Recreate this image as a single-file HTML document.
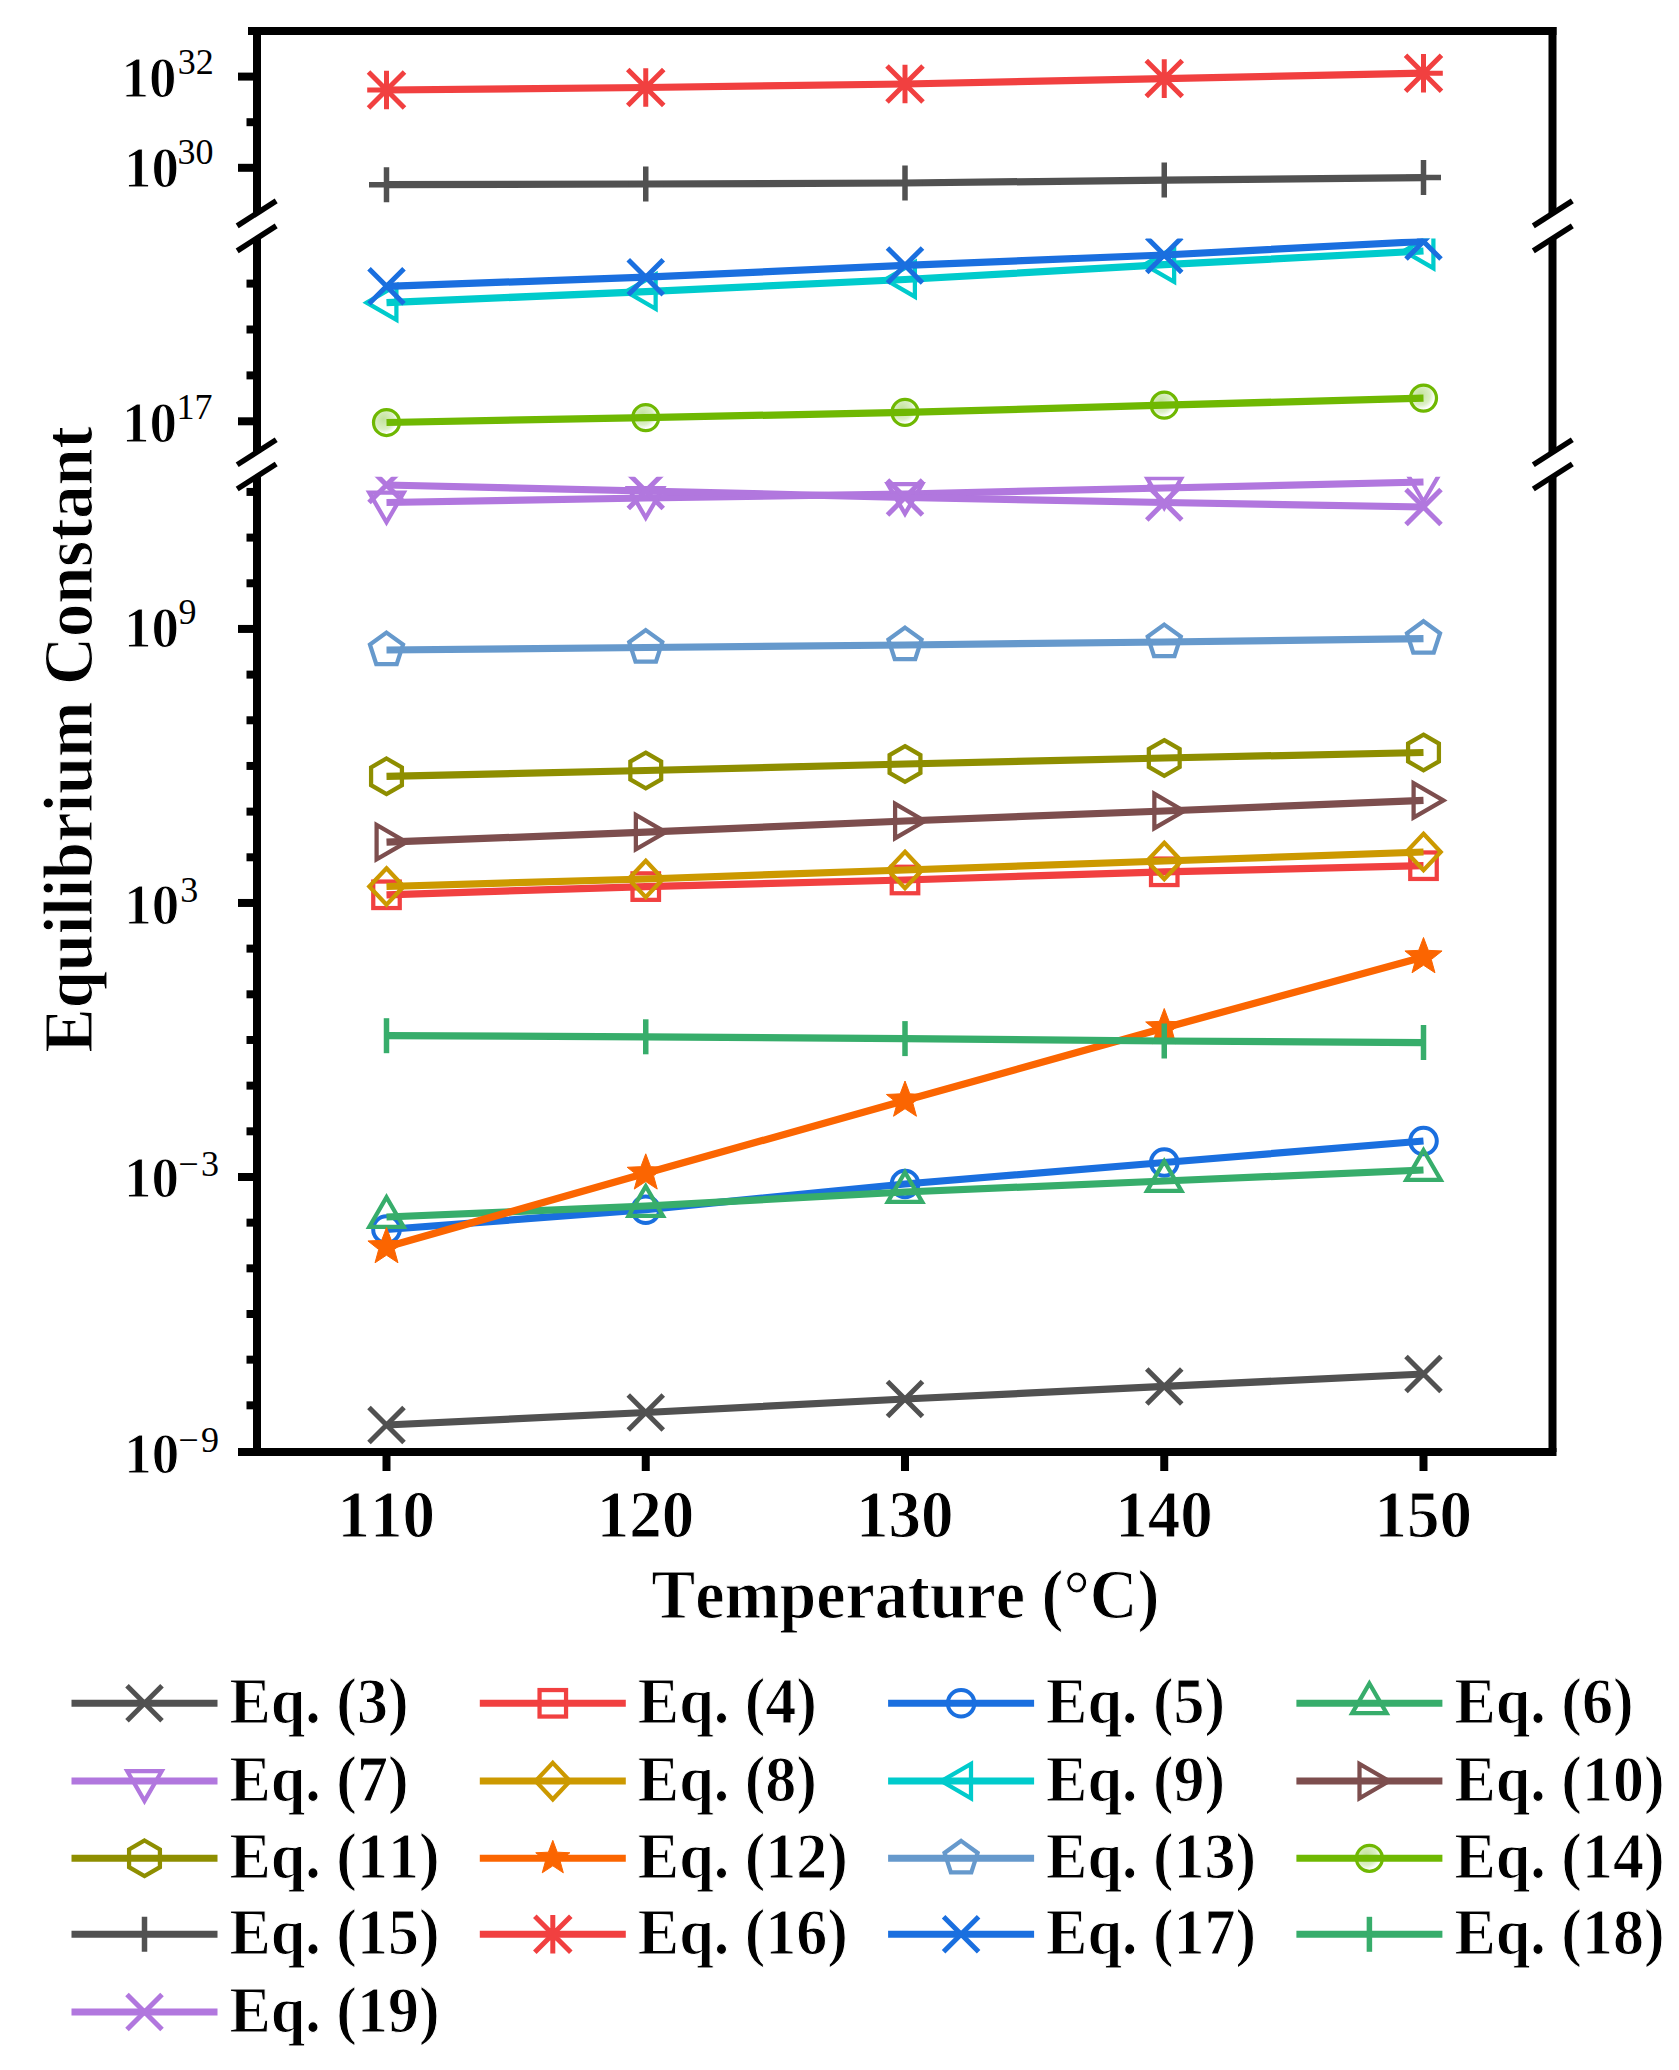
<!DOCTYPE html>
<html><head><meta charset="utf-8"><title>Equilibrium Constant vs Temperature</title>
<style>html,body{margin:0;padding:0;background:#fff;overflow:hidden;width:1679px;height:2070px;}svg{display:block;} text{font-kerning:none;} .b{font-weight:bold;stroke:#fff;stroke-width:1.0px;}</style></head><body>
<svg width="1679" height="2070" viewBox="0 0 1679 2070">
<rect width="1679" height="2070" fill="#fff"/>
<defs>
<clipPath id="clip1"><rect x="257" y="31" width="1295.5" height="182.4"/></clipPath>
<clipPath id="clip2"><rect x="257" y="238.4" width="1295.5" height="214.4"/></clipPath>
<clipPath id="clip3"><rect x="257" y="476.8" width="1295.5" height="975.2"/></clipPath>
<radialGradient id="sph" cx="0.38" cy="0.38" r="0.7"><stop offset="0" stop-color="#c2e29c"/><stop offset="0.55" stop-color="#dcefc6"/><stop offset="0.8" stop-color="#ffffff"/></radialGradient>
</defs>
<g clip-path="url(#clip3)">
<polyline points="386.5,1425 645.75,1412.5 905,1399 1164.25,1386.4 1423.5,1374" stroke="#515151" stroke-width="7.25" fill="none" stroke-linejoin="round"/>
<path d="M369,1407.5 L404,1442.5 M369,1442.5 L404,1407.5" stroke="#515151" stroke-width="5" fill="none"/>
<path d="M628.25,1395 L663.25,1430 M628.25,1430 L663.25,1395" stroke="#515151" stroke-width="5" fill="none"/>
<path d="M887.5,1381.5 L922.5,1416.5 M887.5,1416.5 L922.5,1381.5" stroke="#515151" stroke-width="5" fill="none"/>
<path d="M1146.75,1368.9 L1181.75,1403.9 M1146.75,1403.9 L1181.75,1368.9" stroke="#515151" stroke-width="5" fill="none"/>
<path d="M1406,1356.5 L1441,1391.5 M1406,1391.5 L1441,1356.5" stroke="#515151" stroke-width="5" fill="none"/>
</g>
<g clip-path="url(#clip3)">
<polyline points="386.5,894.8 645.75,886.6 905,880 1164.25,871.8 1423.5,865.7" stroke="#F14040" stroke-width="7.25" fill="none" stroke-linejoin="round"/>
<rect x="373.25" y="881.55" width="26.5" height="26.5" stroke="#F14040" stroke-width="4.25" fill="none"/>
<rect x="632.5" y="873.35" width="26.5" height="26.5" stroke="#F14040" stroke-width="4.25" fill="none"/>
<rect x="891.75" y="866.75" width="26.5" height="26.5" stroke="#F14040" stroke-width="4.25" fill="none"/>
<rect x="1151" y="858.55" width="26.5" height="26.5" stroke="#F14040" stroke-width="4.25" fill="none"/>
<rect x="1410.25" y="852.45" width="26.5" height="26.5" stroke="#F14040" stroke-width="4.25" fill="none"/>
</g>
<g clip-path="url(#clip3)">
<polyline points="386.5,1229.5 645.75,1209.7 905,1184 1164.25,1162.5 1423.5,1141" stroke="#1A6FDF" stroke-width="7.25" fill="none" stroke-linejoin="round"/>
<circle cx="386.5" cy="1229.5" r="13.3" stroke="#1A6FDF" stroke-width="4" fill="none"/>
<circle cx="645.75" cy="1209.7" r="13.3" stroke="#1A6FDF" stroke-width="4" fill="none"/>
<circle cx="905" cy="1184" r="13.3" stroke="#1A6FDF" stroke-width="4" fill="none"/>
<circle cx="1164.25" cy="1162.5" r="13.3" stroke="#1A6FDF" stroke-width="4" fill="none"/>
<circle cx="1423.5" cy="1141" r="13.3" stroke="#1A6FDF" stroke-width="4" fill="none"/>
</g>
<g clip-path="url(#clip3)">
<polyline points="386.5,1217 645.75,1206 905,1192 1164.25,1181 1423.5,1170" stroke="#37AD6B" stroke-width="7.25" fill="none" stroke-linejoin="round"/>
<path d="M386.5,1197.2 L403.7,1226.9 L369.3,1226.9 Z" stroke="#37AD6B" stroke-width="4.25" fill="none" stroke-linejoin="miter" stroke-miterlimit="10"/>
<path d="M645.75,1186.2 L662.95,1215.9 L628.55,1215.9 Z" stroke="#37AD6B" stroke-width="4.25" fill="none" stroke-linejoin="miter" stroke-miterlimit="10"/>
<path d="M905,1172.2 L922.2,1201.9 L887.8,1201.9 Z" stroke="#37AD6B" stroke-width="4.25" fill="none" stroke-linejoin="miter" stroke-miterlimit="10"/>
<path d="M1164.25,1161.2 L1181.45,1190.9 L1147.05,1190.9 Z" stroke="#37AD6B" stroke-width="4.25" fill="none" stroke-linejoin="miter" stroke-miterlimit="10"/>
<path d="M1423.5,1150.2 L1440.7,1179.9 L1406.3,1179.9 Z" stroke="#37AD6B" stroke-width="4.25" fill="none" stroke-linejoin="miter" stroke-miterlimit="10"/>
</g>
<g clip-path="url(#clip3)">
<polyline points="386.5,502.5 645.75,498 905,494 1164.25,488 1423.5,482" stroke="#B177DE" stroke-width="7.25" fill="none" stroke-linejoin="round"/>
<path d="M386.5,522.3 L403.7,492.6 L369.3,492.6 Z" stroke="#B177DE" stroke-width="4.25" fill="none" stroke-linejoin="miter" stroke-miterlimit="10"/>
<path d="M645.75,517.8 L662.95,488.1 L628.55,488.1 Z" stroke="#B177DE" stroke-width="4.25" fill="none" stroke-linejoin="miter" stroke-miterlimit="10"/>
<path d="M905,513.8 L922.2,484.1 L887.8,484.1 Z" stroke="#B177DE" stroke-width="4.25" fill="none" stroke-linejoin="miter" stroke-miterlimit="10"/>
<path d="M1164.25,507.8 L1181.45,478.1 L1147.05,478.1 Z" stroke="#B177DE" stroke-width="4.25" fill="none" stroke-linejoin="miter" stroke-miterlimit="10"/>
<path d="M1423.5,501.8 L1440.7,472.1 L1406.3,472.1 Z" stroke="#B177DE" stroke-width="4.25" fill="none" stroke-linejoin="miter" stroke-miterlimit="10"/>
</g>
<g clip-path="url(#clip3)">
<polyline points="386.5,886.5 645.75,879 905,870 1164.25,861 1423.5,852" stroke="#CC9900" stroke-width="7.25" fill="none" stroke-linejoin="round"/>
<path d="M386.5,868.3 L403.7,886.5 L386.5,904.7 L369.3,886.5 Z" stroke="#CC9900" stroke-width="4.25" fill="none"/>
<path d="M645.75,860.8 L662.95,879 L645.75,897.2 L628.55,879 Z" stroke="#CC9900" stroke-width="4.25" fill="none"/>
<path d="M905,851.8 L922.2,870 L905,888.2 L887.8,870 Z" stroke="#CC9900" stroke-width="4.25" fill="none"/>
<path d="M1164.25,842.8 L1181.45,861 L1164.25,879.2 L1147.05,861 Z" stroke="#CC9900" stroke-width="4.25" fill="none"/>
<path d="M1423.5,833.8 L1440.7,852 L1423.5,870.2 L1406.3,852 Z" stroke="#CC9900" stroke-width="4.25" fill="none"/>
</g>
<g clip-path="url(#clip2)">
<polyline points="386.5,302.7 645.75,291.6 905,279.5 1164.25,264.7 1423.5,251" stroke="#00CBCC" stroke-width="7.25" fill="none" stroke-linejoin="round"/>
<path d="M366.7,302.7 L396.4,285.5 L396.4,319.9 Z" stroke="#00CBCC" stroke-width="4.25" fill="none" stroke-linejoin="miter" stroke-miterlimit="10"/>
<path d="M625.95,291.6 L655.65,274.4 L655.65,308.8 Z" stroke="#00CBCC" stroke-width="4.25" fill="none" stroke-linejoin="miter" stroke-miterlimit="10"/>
<path d="M885.2,279.5 L914.9,262.3 L914.9,296.7 Z" stroke="#00CBCC" stroke-width="4.25" fill="none" stroke-linejoin="miter" stroke-miterlimit="10"/>
<path d="M1144.45,264.7 L1174.15,247.5 L1174.15,281.9 Z" stroke="#00CBCC" stroke-width="4.25" fill="none" stroke-linejoin="miter" stroke-miterlimit="10"/>
<path d="M1403.7,251 L1433.4,233.8 L1433.4,268.2 Z" stroke="#00CBCC" stroke-width="4.25" fill="none" stroke-linejoin="miter" stroke-miterlimit="10"/>
</g>
<g clip-path="url(#clip3)">
<polyline points="386.5,842.2 645.75,832.2 905,821 1164.25,811 1423.5,800.4" stroke="#7D4E4E" stroke-width="7.25" fill="none" stroke-linejoin="round"/>
<path d="M406.3,842.2 L376.6,825 L376.6,859.4 Z" stroke="#7D4E4E" stroke-width="4.25" fill="none" stroke-linejoin="miter" stroke-miterlimit="10"/>
<path d="M665.55,832.2 L635.85,815 L635.85,849.4 Z" stroke="#7D4E4E" stroke-width="4.25" fill="none" stroke-linejoin="miter" stroke-miterlimit="10"/>
<path d="M924.8,821 L895.1,803.8 L895.1,838.2 Z" stroke="#7D4E4E" stroke-width="4.25" fill="none" stroke-linejoin="miter" stroke-miterlimit="10"/>
<path d="M1184.05,811 L1154.35,793.8 L1154.35,828.2 Z" stroke="#7D4E4E" stroke-width="4.25" fill="none" stroke-linejoin="miter" stroke-miterlimit="10"/>
<path d="M1443.3,800.4 L1413.6,783.2 L1413.6,817.6 Z" stroke="#7D4E4E" stroke-width="4.25" fill="none" stroke-linejoin="miter" stroke-miterlimit="10"/>
</g>
<g clip-path="url(#clip3)">
<polyline points="386.5,776.3 645.75,770.5 905,764 1164.25,758 1423.5,752.5" stroke="#8E8E00" stroke-width="7.25" fill="none" stroke-linejoin="round"/>
<path d="M386.5,758.5 L401.92,767.4 L401.92,785.2 L386.5,794.1 L371.08,785.2 L371.08,767.4 Z" stroke="#8E8E00" stroke-width="4.25" fill="none"/>
<path d="M645.75,752.7 L661.17,761.6 L661.17,779.4 L645.75,788.3 L630.33,779.4 L630.33,761.6 Z" stroke="#8E8E00" stroke-width="4.25" fill="none"/>
<path d="M905,746.2 L920.42,755.1 L920.42,772.9 L905,781.8 L889.58,772.9 L889.58,755.1 Z" stroke="#8E8E00" stroke-width="4.25" fill="none"/>
<path d="M1164.25,740.2 L1179.67,749.1 L1179.67,766.9 L1164.25,775.8 L1148.83,766.9 L1148.83,749.1 Z" stroke="#8E8E00" stroke-width="4.25" fill="none"/>
<path d="M1423.5,734.7 L1438.92,743.6 L1438.92,761.4 L1423.5,770.3 L1408.08,761.4 L1408.08,743.6 Z" stroke="#8E8E00" stroke-width="4.25" fill="none"/>
</g>
<g clip-path="url(#clip3)">
<polyline points="386.5,1247 645.75,1173.3 905,1100.5 1164.25,1028 1423.5,957" stroke="#FB6501" stroke-width="7.25" fill="none" stroke-linejoin="round"/>
<path d="M386.5,1227.5 L391.32,1240.37 L405.05,1240.97 L394.3,1249.53 L397.96,1262.78 L386.5,1255.2 L375.04,1262.78 L378.7,1249.53 L367.95,1240.97 L381.68,1240.37 Z" fill="#FB6501" stroke="#FB6501" stroke-width="1"/>
<path d="M645.75,1153.8 L650.57,1166.67 L664.3,1167.27 L653.55,1175.83 L657.21,1189.08 L645.75,1181.5 L634.29,1189.08 L637.95,1175.83 L627.2,1167.27 L640.93,1166.67 Z" fill="#FB6501" stroke="#FB6501" stroke-width="1"/>
<path d="M905,1081 L909.82,1093.87 L923.55,1094.47 L912.8,1103.03 L916.46,1116.28 L905,1108.7 L893.54,1116.28 L897.2,1103.03 L886.45,1094.47 L900.18,1093.87 Z" fill="#FB6501" stroke="#FB6501" stroke-width="1"/>
<path d="M1164.25,1008.5 L1169.07,1021.37 L1182.8,1021.97 L1172.05,1030.53 L1175.71,1043.78 L1164.25,1036.2 L1152.79,1043.78 L1156.45,1030.53 L1145.7,1021.97 L1159.43,1021.37 Z" fill="#FB6501" stroke="#FB6501" stroke-width="1"/>
<path d="M1423.5,937.5 L1428.32,950.37 L1442.05,950.97 L1431.3,959.53 L1434.96,972.78 L1423.5,965.2 L1412.04,972.78 L1415.7,959.53 L1404.95,950.97 L1418.68,950.37 Z" fill="#FB6501" stroke="#FB6501" stroke-width="1"/>
</g>
<g clip-path="url(#clip3)">
<polyline points="386.5,650 645.75,647.5 905,645 1164.25,642 1423.5,638.6" stroke="#6699CC" stroke-width="7.25" fill="none" stroke-linejoin="round"/>
<path d="M386.5,632.6 L403.05,644.62 L396.73,664.08 L376.27,664.08 L369.95,644.62 Z" stroke="#6699CC" stroke-width="4.25" fill="none"/>
<path d="M645.75,630.1 L662.3,642.12 L655.98,661.58 L635.52,661.58 L629.2,642.12 Z" stroke="#6699CC" stroke-width="4.25" fill="none"/>
<path d="M905,627.6 L921.55,639.62 L915.23,659.08 L894.77,659.08 L888.45,639.62 Z" stroke="#6699CC" stroke-width="4.25" fill="none"/>
<path d="M1164.25,624.6 L1180.8,636.62 L1174.48,656.08 L1154.02,656.08 L1147.7,636.62 Z" stroke="#6699CC" stroke-width="4.25" fill="none"/>
<path d="M1423.5,621.2 L1440.05,633.22 L1433.73,652.68 L1413.27,652.68 L1406.95,633.22 Z" stroke="#6699CC" stroke-width="4.25" fill="none"/>
</g>
<g clip-path="url(#clip2)">
<circle cx="386.5" cy="422.5" r="13" fill="url(#sph)"/>
<circle cx="645.75" cy="417.6" r="13" fill="url(#sph)"/>
<circle cx="905" cy="412.4" r="13" fill="url(#sph)"/>
<circle cx="1164.25" cy="405.2" r="13" fill="url(#sph)"/>
<circle cx="1423.5" cy="398.1" r="13" fill="url(#sph)"/>
<polyline points="386.5,422.5 645.75,417.6 905,412.4 1164.25,405.2 1423.5,398.1" stroke="#6FB802" stroke-width="7.25" fill="none" stroke-linejoin="round"/>
<circle cx="386.5" cy="422.5" r="13" stroke="#6FB802" stroke-width="3.25" fill="none"/>
<circle cx="645.75" cy="417.6" r="13" stroke="#6FB802" stroke-width="3.25" fill="none"/>
<circle cx="905" cy="412.4" r="13" stroke="#6FB802" stroke-width="3.25" fill="none"/>
<circle cx="1164.25" cy="405.2" r="13" stroke="#6FB802" stroke-width="3.25" fill="none"/>
<circle cx="1423.5" cy="398.1" r="13" stroke="#6FB802" stroke-width="3.25" fill="none"/>
</g>
<g clip-path="url(#clip1)">
<polyline points="386.5,184.7 645.75,184 905,183 1164.25,180.1 1423.5,177.6" stroke="#515151" stroke-width="7.25" fill="none" stroke-linejoin="round"/>
<path d="M386.5,167.2 L386.5,202.2 M369,184.7 L404,184.7" stroke="#515151" stroke-width="5.5" fill="none"/>
<path d="M645.75,166.5 L645.75,201.5 M628.25,184 L663.25,184" stroke="#515151" stroke-width="5.5" fill="none"/>
<path d="M905,165.5 L905,200.5 M887.5,183 L922.5,183" stroke="#515151" stroke-width="5.5" fill="none"/>
<path d="M1164.25,162.6 L1164.25,197.6 M1146.75,180.1 L1181.75,180.1" stroke="#515151" stroke-width="5.5" fill="none"/>
<path d="M1423.5,160.1 L1423.5,195.1 M1406,177.6 L1441,177.6" stroke="#515151" stroke-width="5.5" fill="none"/>
</g>
<g clip-path="url(#clip1)">
<polyline points="386.5,90 645.75,87.5 905,84 1164.25,78.6 1423.5,73.2" stroke="#F14040" stroke-width="7.25" fill="none" stroke-linejoin="round"/>
<path d="M368.5,72 L404.5,108 M368.5,108 L404.5,72 M386.5,70.7 L386.5,109.3 M367.2,90 L405.8,90" stroke="#F14040" stroke-width="5" fill="none"/>
<path d="M627.75,69.5 L663.75,105.5 M627.75,105.5 L663.75,69.5 M645.75,68.2 L645.75,106.8 M626.45,87.5 L665.05,87.5" stroke="#F14040" stroke-width="5" fill="none"/>
<path d="M887,66 L923,102 M887,102 L923,66 M905,64.7 L905,103.3 M885.7,84 L924.3,84" stroke="#F14040" stroke-width="5" fill="none"/>
<path d="M1146.25,60.6 L1182.25,96.6 M1146.25,96.6 L1182.25,60.6 M1164.25,59.3 L1164.25,97.9 M1144.95,78.6 L1183.55,78.6" stroke="#F14040" stroke-width="5" fill="none"/>
<path d="M1405.5,55.2 L1441.5,91.2 M1405.5,91.2 L1441.5,55.2 M1423.5,53.9 L1423.5,92.5 M1404.2,73.2 L1442.8,73.2" stroke="#F14040" stroke-width="5" fill="none"/>
</g>
<g clip-path="url(#clip2)">
<polyline points="386.5,286.3 645.75,277.2 905,265.4 1164.25,255 1423.5,241.5" stroke="#1A6FDF" stroke-width="7.25" fill="none" stroke-linejoin="round"/>
<path d="M369,268.8 L404,303.8 M369,303.8 L404,268.8" stroke="#1A6FDF" stroke-width="5" fill="none"/>
<path d="M628.25,259.7 L663.25,294.7 M628.25,294.7 L663.25,259.7" stroke="#1A6FDF" stroke-width="5" fill="none"/>
<path d="M887.5,247.9 L922.5,282.9 M887.5,282.9 L922.5,247.9" stroke="#1A6FDF" stroke-width="5" fill="none"/>
<path d="M1146.75,237.5 L1181.75,272.5 M1146.75,272.5 L1181.75,237.5" stroke="#1A6FDF" stroke-width="5" fill="none"/>
<path d="M1406,224 L1441,259 M1406,259 L1441,224" stroke="#1A6FDF" stroke-width="5" fill="none"/>
</g>
<g clip-path="url(#clip3)">
<polyline points="386.5,1035.7 645.75,1036.8 905,1038.6 1164.25,1041 1423.5,1042.5" stroke="#37AD6B" stroke-width="7.25" fill="none" stroke-linejoin="round"/>
<path d="M386.5,1018.2 L386.5,1053.2" stroke="#37AD6B" stroke-width="5.5" fill="none"/>
<path d="M645.75,1019.3 L645.75,1054.3" stroke="#37AD6B" stroke-width="5.5" fill="none"/>
<path d="M905,1021.1 L905,1056.1" stroke="#37AD6B" stroke-width="5.5" fill="none"/>
<path d="M1164.25,1023.5 L1164.25,1058.5" stroke="#37AD6B" stroke-width="5.5" fill="none"/>
<path d="M1423.5,1025 L1423.5,1060" stroke="#37AD6B" stroke-width="5.5" fill="none"/>
</g>
<g clip-path="url(#clip3)">
<polyline points="386.5,485 645.75,491 905,497.5 1164.25,502.5 1423.5,507" stroke="#B177DE" stroke-width="7.25" fill="none" stroke-linejoin="round"/>
<path d="M369,467.5 L404,502.5 M369,502.5 L404,467.5" stroke="#B177DE" stroke-width="5" fill="none"/>
<path d="M628.25,473.5 L663.25,508.5 M628.25,508.5 L663.25,473.5" stroke="#B177DE" stroke-width="5" fill="none"/>
<path d="M887.5,480 L922.5,515 M887.5,515 L922.5,480" stroke="#B177DE" stroke-width="5" fill="none"/>
<path d="M1146.75,485 L1181.75,520 M1146.75,520 L1181.75,485" stroke="#B177DE" stroke-width="5" fill="none"/>
<path d="M1406,489.5 L1441,524.5 M1406,524.5 L1441,489.5" stroke="#B177DE" stroke-width="5" fill="none"/>
</g>
<path d="M248,31 L1556.5,31" stroke="#000" stroke-width="8" fill="none"/>
<path d="M238,1452 L1556.5,1452" stroke="#000" stroke-width="8" fill="none"/>
<path d="M257,27 L257,213.4" stroke="#000" stroke-width="8" fill="none"/>
<path d="M1552.5,27 L1552.5,213.4" stroke="#000" stroke-width="8" fill="none"/>
<path d="M257,238.4 L257,452.8" stroke="#000" stroke-width="8" fill="none"/>
<path d="M1552.5,238.4 L1552.5,452.8" stroke="#000" stroke-width="8" fill="none"/>
<path d="M257,476.8 L257,1452" stroke="#000" stroke-width="8" fill="none"/>
<path d="M1552.5,476.8 L1552.5,1452" stroke="#000" stroke-width="8" fill="none"/>
<path d="M237.2,225.9 L276.2,200.9" stroke="#000" stroke-width="5.5" fill="none"/>
<path d="M237.2,250.9 L276.2,225.9" stroke="#000" stroke-width="5.5" fill="none"/>
<path d="M237.2,464.8 L276.2,439.8" stroke="#000" stroke-width="5.5" fill="none"/>
<path d="M237.2,489 L276.2,464" stroke="#000" stroke-width="5.5" fill="none"/>
<path d="M1533.3,225.9 L1572.3,200.9" stroke="#000" stroke-width="5.5" fill="none"/>
<path d="M1533.3,250.9 L1572.3,225.9" stroke="#000" stroke-width="5.5" fill="none"/>
<path d="M1533.3,464.8 L1572.3,439.8" stroke="#000" stroke-width="5.5" fill="none"/>
<path d="M1533.3,489 L1572.3,464" stroke="#000" stroke-width="5.5" fill="none"/>
<path d="M238,76.6 L257,76.6" stroke="#000" stroke-width="8" fill="none"/>
<path d="M238,167.8 L257,167.8" stroke="#000" stroke-width="8" fill="none"/>
<path d="M246.5,122.2 L257,122.2" stroke="#000" stroke-width="8" fill="none"/>
<path d="M238,421.3 L257,421.3" stroke="#000" stroke-width="8" fill="none"/>
<path d="M246.5,375.4 L257,375.4" stroke="#000" stroke-width="8" fill="none"/>
<path d="M246.5,329.5 L257,329.5" stroke="#000" stroke-width="8" fill="none"/>
<path d="M246.5,283.6 L257,283.6" stroke="#000" stroke-width="8" fill="none"/>
<path d="M246.5,1405.33 L257,1405.33" stroke="#000" stroke-width="8" fill="none"/>
<path d="M246.5,1359.66 L257,1359.66" stroke="#000" stroke-width="8" fill="none"/>
<path d="M246.5,1313.99 L257,1313.99" stroke="#000" stroke-width="8" fill="none"/>
<path d="M246.5,1268.32 L257,1268.32" stroke="#000" stroke-width="8" fill="none"/>
<path d="M246.5,1222.65 L257,1222.65" stroke="#000" stroke-width="8" fill="none"/>
<path d="M238,1176.98 L257,1176.98" stroke="#000" stroke-width="8" fill="none"/>
<path d="M246.5,1131.31 L257,1131.31" stroke="#000" stroke-width="8" fill="none"/>
<path d="M246.5,1085.64 L257,1085.64" stroke="#000" stroke-width="8" fill="none"/>
<path d="M246.5,1039.97 L257,1039.97" stroke="#000" stroke-width="8" fill="none"/>
<path d="M246.5,994.3 L257,994.3" stroke="#000" stroke-width="8" fill="none"/>
<path d="M246.5,948.63 L257,948.63" stroke="#000" stroke-width="8" fill="none"/>
<path d="M238,902.96 L257,902.96" stroke="#000" stroke-width="8" fill="none"/>
<path d="M246.5,857.29 L257,857.29" stroke="#000" stroke-width="8" fill="none"/>
<path d="M246.5,811.62 L257,811.62" stroke="#000" stroke-width="8" fill="none"/>
<path d="M246.5,765.95 L257,765.95" stroke="#000" stroke-width="8" fill="none"/>
<path d="M246.5,720.28 L257,720.28" stroke="#000" stroke-width="8" fill="none"/>
<path d="M246.5,674.61 L257,674.61" stroke="#000" stroke-width="8" fill="none"/>
<path d="M238,628.94 L257,628.94" stroke="#000" stroke-width="8" fill="none"/>
<path d="M246.5,583.27 L257,583.27" stroke="#000" stroke-width="8" fill="none"/>
<path d="M246.5,537.6 L257,537.6" stroke="#000" stroke-width="8" fill="none"/>
<path d="M246.5,491.93 L257,491.93" stroke="#000" stroke-width="8" fill="none"/>
<path d="M386.5,1452 L386.5,1471" stroke="#000" stroke-width="8" fill="none"/>
<path d="M645.75,1452 L645.75,1471" stroke="#000" stroke-width="8" fill="none"/>
<path d="M905,1452 L905,1471" stroke="#000" stroke-width="8" fill="none"/>
<path d="M1164.25,1452 L1164.25,1471" stroke="#000" stroke-width="8" fill="none"/>
<path d="M1423.5,1452 L1423.5,1471" stroke="#000" stroke-width="8" fill="none"/>
<text transform="translate(121.4,97.3) scale(1,1.04)" x="0" y="0" font-family="'Liberation Serif','Times New Roman',serif" font-size="55" class="b" fill="#000">10</text>
<text x="177.7" y="73.6" font-family="'Liberation Serif','Times New Roman',serif" font-size="36" fill="#000">32</text>
<text transform="translate(123.9,187.3) scale(1,1.04)" x="0" y="0" font-family="'Liberation Serif','Times New Roman',serif" font-size="55" class="b" fill="#000">10</text>
<text x="177.5" y="164" font-family="'Liberation Serif','Times New Roman',serif" font-size="36" fill="#000">30</text>
<text transform="translate(122,441.7) scale(1,1.04)" x="0" y="0" font-family="'Liberation Serif','Times New Roman',serif" font-size="55" class="b" fill="#000">10</text>
<text x="176.5" y="418.7" font-family="'Liberation Serif','Times New Roman',serif" font-size="36" fill="#000">17</text>
<text transform="translate(124,646.7) scale(1,1.04)" x="0" y="0" font-family="'Liberation Serif','Times New Roman',serif" font-size="55" class="b" fill="#000">10</text>
<text x="178.5" y="623.8" font-family="'Liberation Serif','Times New Roman',serif" font-size="36" fill="#000">9</text>
<text transform="translate(124.3,923.6) scale(1,1.04)" x="0" y="0" font-family="'Liberation Serif','Times New Roman',serif" font-size="55" class="b" fill="#000">10</text>
<text x="180.2" y="902.3" font-family="'Liberation Serif','Times New Roman',serif" font-size="36" fill="#000">3</text>
<text transform="translate(123.9,1196.5) scale(1,1.04)" x="0" y="0" font-family="'Liberation Serif','Times New Roman',serif" font-size="55" class="b" fill="#000">10</text>
<text x="178.2" y="1175.7" font-family="'Liberation Serif','Times New Roman',serif" font-size="36" fill="#000">−<tspan dx="2.5">3</tspan></text>
<text transform="translate(124.3,1473.2) scale(1,1.04)" x="0" y="0" font-family="'Liberation Serif','Times New Roman',serif" font-size="55" class="b" fill="#000">10</text>
<text x="178.2" y="1451.9" font-family="'Liberation Serif','Times New Roman',serif" font-size="36" fill="#000">−<tspan dx="2.5">9</tspan></text>
<text transform="translate(386.2,1536.5) scale(1,1.04)" x="0" y="0" font-family="'Liberation Serif','Times New Roman',serif" font-size="65" class="b" text-anchor="middle" fill="#000">110</text>
<text transform="translate(645.45,1536.5) scale(1,1.04)" x="0" y="0" font-family="'Liberation Serif','Times New Roman',serif" font-size="65" class="b" text-anchor="middle" fill="#000">120</text>
<text transform="translate(904.7,1536.5) scale(1,1.04)" x="0" y="0" font-family="'Liberation Serif','Times New Roman',serif" font-size="65" class="b" text-anchor="middle" fill="#000">130</text>
<text transform="translate(1163.95,1536.5) scale(1,1.04)" x="0" y="0" font-family="'Liberation Serif','Times New Roman',serif" font-size="65" class="b" text-anchor="middle" fill="#000">140</text>
<text transform="translate(1423.2,1536.5) scale(1,1.04)" x="0" y="0" font-family="'Liberation Serif','Times New Roman',serif" font-size="65" class="b" text-anchor="middle" fill="#000">150</text>
<text transform="translate(905.3,1617.5) scale(1,1.05)" x="0" y="0" font-family="'Liberation Serif','Times New Roman',serif" font-size="66" class="b" text-anchor="middle" fill="#000">Temperature (°C)</text>
<text transform="translate(92,739.5) rotate(-90) scale(1,1.05)" x="0" y="0" font-family="'Liberation Serif','Times New Roman',serif" font-size="66.5" class="b" text-anchor="middle" fill="#000">Equilibrium Constant</text>
<path d="M71.5,1703.3 L217.5,1703.3" stroke="#515151" stroke-width="7"/>
<path d="M127,1685.8 L162,1720.8 M127,1720.8 L162,1685.8" stroke="#515151" stroke-width="5" fill="none"/>
<text transform="translate(229.5,1723) scale(1,1.04)" x="0" y="0" font-family="'Liberation Serif','Times New Roman',serif" font-size="62" class="b" fill="#000">Eq. (3)</text>
<path d="M479.8,1703.3 L625.8,1703.3" stroke="#F14040" stroke-width="7"/>
<rect x="539.55" y="1690.05" width="26.5" height="26.5" stroke="#F14040" stroke-width="4.25" fill="none"/>
<text transform="translate(637.8,1723) scale(1,1.04)" x="0" y="0" font-family="'Liberation Serif','Times New Roman',serif" font-size="62" class="b" fill="#000">Eq. (4)</text>
<path d="M888.1,1703.3 L1034.1,1703.3" stroke="#1A6FDF" stroke-width="7"/>
<circle cx="961.1" cy="1703.3" r="13.3" stroke="#1A6FDF" stroke-width="4" fill="none"/>
<text transform="translate(1046.1,1723) scale(1,1.04)" x="0" y="0" font-family="'Liberation Serif','Times New Roman',serif" font-size="62" class="b" fill="#000">Eq. (5)</text>
<path d="M1296.4,1703.3 L1442.4,1703.3" stroke="#37AD6B" stroke-width="7"/>
<path d="M1369.4,1683.5 L1386.6,1713.2 L1352.2,1713.2 Z" stroke="#37AD6B" stroke-width="4.25" fill="none" stroke-linejoin="miter" stroke-miterlimit="10"/>
<text transform="translate(1454.4,1723) scale(1,1.04)" x="0" y="0" font-family="'Liberation Serif','Times New Roman',serif" font-size="62" class="b" fill="#000">Eq. (6)</text>
<path d="M71.5,1781.1 L217.5,1781.1" stroke="#B177DE" stroke-width="7"/>
<path d="M144.5,1800.9 L161.7,1771.2 L127.3,1771.2 Z" stroke="#B177DE" stroke-width="4.25" fill="none" stroke-linejoin="miter" stroke-miterlimit="10"/>
<text transform="translate(229.5,1800.8) scale(1,1.04)" x="0" y="0" font-family="'Liberation Serif','Times New Roman',serif" font-size="62" class="b" fill="#000">Eq. (7)</text>
<path d="M479.8,1781.1 L625.8,1781.1" stroke="#CC9900" stroke-width="7"/>
<path d="M552.8,1762.9 L570,1781.1 L552.8,1799.3 L535.6,1781.1 Z" stroke="#CC9900" stroke-width="4.25" fill="none"/>
<text transform="translate(637.8,1800.8) scale(1,1.04)" x="0" y="0" font-family="'Liberation Serif','Times New Roman',serif" font-size="62" class="b" fill="#000">Eq. (8)</text>
<path d="M888.1,1781.1 L1034.1,1781.1" stroke="#00CBCC" stroke-width="7"/>
<path d="M941.3,1781.1 L971,1763.9 L971,1798.3 Z" stroke="#00CBCC" stroke-width="4.25" fill="none" stroke-linejoin="miter" stroke-miterlimit="10"/>
<text transform="translate(1046.1,1800.8) scale(1,1.04)" x="0" y="0" font-family="'Liberation Serif','Times New Roman',serif" font-size="62" class="b" fill="#000">Eq. (9)</text>
<path d="M1296.4,1781.1 L1442.4,1781.1" stroke="#7D4E4E" stroke-width="7"/>
<path d="M1389.2,1781.1 L1359.5,1763.9 L1359.5,1798.3 Z" stroke="#7D4E4E" stroke-width="4.25" fill="none" stroke-linejoin="miter" stroke-miterlimit="10"/>
<text transform="translate(1454.4,1800.8) scale(1,1.04)" x="0" y="0" font-family="'Liberation Serif','Times New Roman',serif" font-size="62" class="b" fill="#000">Eq. (10)</text>
<path d="M71.5,1858.3 L217.5,1858.3" stroke="#8E8E00" stroke-width="7"/>
<path d="M144.5,1840.5 L159.92,1849.4 L159.92,1867.2 L144.5,1876.1 L129.08,1867.2 L129.08,1849.4 Z" stroke="#8E8E00" stroke-width="4.25" fill="none"/>
<text transform="translate(229.5,1878) scale(1,1.04)" x="0" y="0" font-family="'Liberation Serif','Times New Roman',serif" font-size="62" class="b" fill="#000">Eq. (11)</text>
<path d="M479.8,1858.3 L625.8,1858.3" stroke="#FB6501" stroke-width="7"/>
<path d="M552.8,1840.36 L557.23,1852.2 L569.86,1852.76 L559.97,1860.63 L563.34,1872.81 L552.8,1865.84 L542.26,1872.81 L545.63,1860.63 L535.74,1852.76 L548.37,1852.2 Z" fill="#FB6501" stroke="#FB6501" stroke-width="1"/>
<text transform="translate(637.8,1878) scale(1,1.04)" x="0" y="0" font-family="'Liberation Serif','Times New Roman',serif" font-size="62" class="b" fill="#000">Eq. (12)</text>
<path d="M888.1,1858.3 L1034.1,1858.3" stroke="#6699CC" stroke-width="7"/>
<path d="M961.1,1840.9 L977.65,1852.92 L971.33,1872.38 L950.87,1872.38 L944.55,1852.92 Z" stroke="#6699CC" stroke-width="4.25" fill="none"/>
<text transform="translate(1046.1,1878) scale(1,1.04)" x="0" y="0" font-family="'Liberation Serif','Times New Roman',serif" font-size="62" class="b" fill="#000">Eq. (13)</text>
<circle cx="1369.4" cy="1858.3" r="13" fill="url(#sph)"/>
<path d="M1296.4,1858.3 L1442.4,1858.3" stroke="#6FB802" stroke-width="7"/>
<circle cx="1369.4" cy="1858.3" r="13" stroke="#6FB802" stroke-width="3.25" fill="none"/>
<text transform="translate(1454.4,1878) scale(1,1.04)" x="0" y="0" font-family="'Liberation Serif','Times New Roman',serif" font-size="62" class="b" fill="#000">Eq. (14)</text>
<path d="M71.5,1934.3 L217.5,1934.3" stroke="#515151" stroke-width="7"/>
<path d="M144.5,1916.8 L144.5,1951.8 M127,1934.3 L162,1934.3" stroke="#515151" stroke-width="5.5" fill="none"/>
<text transform="translate(229.5,1954) scale(1,1.04)" x="0" y="0" font-family="'Liberation Serif','Times New Roman',serif" font-size="62" class="b" fill="#000">Eq. (15)</text>
<path d="M479.8,1934.3 L625.8,1934.3" stroke="#F14040" stroke-width="7"/>
<path d="M534.8,1916.3 L570.8,1952.3 M534.8,1952.3 L570.8,1916.3 M552.8,1915 L552.8,1953.6 M533.5,1934.3 L572.1,1934.3" stroke="#F14040" stroke-width="5" fill="none"/>
<text transform="translate(637.8,1954) scale(1,1.04)" x="0" y="0" font-family="'Liberation Serif','Times New Roman',serif" font-size="62" class="b" fill="#000">Eq. (16)</text>
<path d="M888.1,1934.3 L1034.1,1934.3" stroke="#1A6FDF" stroke-width="7"/>
<path d="M943.6,1916.8 L978.6,1951.8 M943.6,1951.8 L978.6,1916.8" stroke="#1A6FDF" stroke-width="5" fill="none"/>
<text transform="translate(1046.1,1954) scale(1,1.04)" x="0" y="0" font-family="'Liberation Serif','Times New Roman',serif" font-size="62" class="b" fill="#000">Eq. (17)</text>
<path d="M1296.4,1934.3 L1442.4,1934.3" stroke="#37AD6B" stroke-width="7"/>
<path d="M1369.4,1916.8 L1369.4,1951.8" stroke="#37AD6B" stroke-width="5.5" fill="none"/>
<text transform="translate(1454.4,1954) scale(1,1.04)" x="0" y="0" font-family="'Liberation Serif','Times New Roman',serif" font-size="62" class="b" fill="#000">Eq. (18)</text>
<path d="M71.5,2011.9 L217.5,2011.9" stroke="#B177DE" stroke-width="7"/>
<path d="M127,1994.4 L162,2029.4 M127,2029.4 L162,1994.4" stroke="#B177DE" stroke-width="5" fill="none"/>
<text transform="translate(229.5,2031.6) scale(1,1.04)" x="0" y="0" font-family="'Liberation Serif','Times New Roman',serif" font-size="62" class="b" fill="#000">Eq. (19)</text>
</svg></body></html>
